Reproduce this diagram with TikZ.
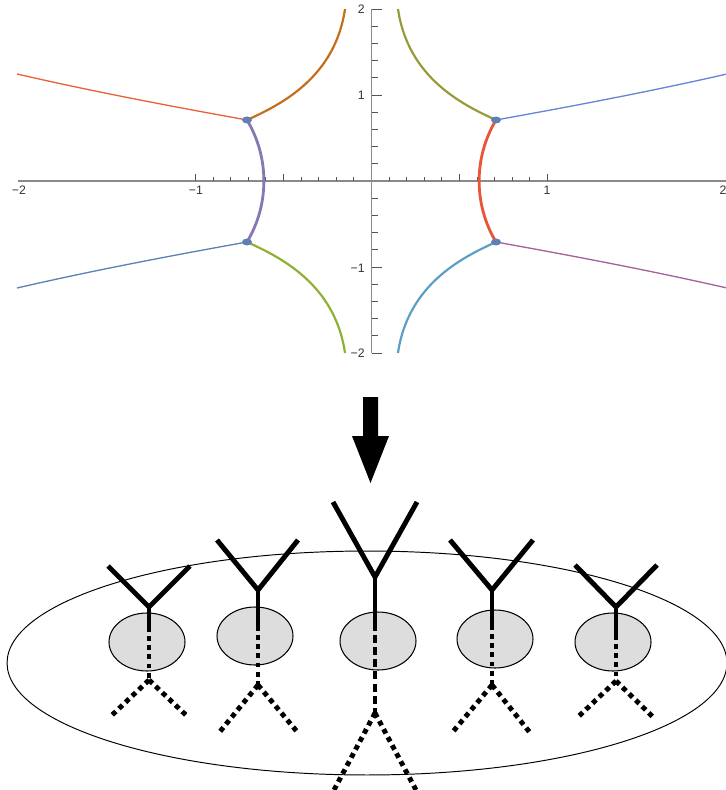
\documentclass[tikz,border=0pt]{standalone}
\usepackage{fontspec}
\newfontfamily\axfont{Liberation Sans}
\usetikzlibrary{shapes.geometric}
\definecolor{axgray}{HTML}{8A8A8A}
\definecolor{tickgray}{HTML}{555555}
\definecolor{labgray}{HTML}{333333}
\definecolor{cRedL}{HTML}{EB6235}
\definecolor{cBrown}{HTML}{C56E1A}
\definecolor{cPurple}{HTML}{8778B3}
\definecolor{cBlueL}{HTML}{5E81B5}
\definecolor{cGreen}{HTML}{8FB032}
\definecolor{cOlive}{HTML}{979A38}
\definecolor{cBlueR}{HTML}{6685D9}
\definecolor{cRedR}{HTML}{E95536}
\definecolor{cLBlue}{HTML}{5D9EC7}
\definecolor{cMagenta}{HTML}{A5609D}
\definecolor{bpblue}{HTML}{5E81B5}
\definecolor{blobgray}{HTML}{DDDDDD}
\begin{document}
\begin{tikzpicture}[x=0.02cm,y=-0.02cm,
  axisline/.style={draw=axgray,line width=0.75pt},
  tickmark/.style={draw=tickgray,line width=0.5pt},
  lab/.style={font=\axfont\fontsize{7}{8}\selectfont,text=labgray,inner sep=0pt},
  thinc/.style={line width=0.75pt},
  midc/.style={line width=1.25pt},
  thickc/.style={line width=1.6pt},
  bp/.style={fill=bpblue,draw=none},
  yarm/.style={line width=2.8pt},
  ydot/.style={line width=2.8pt,dash pattern=on 2.8pt off 2.4pt},
  ydash/.style={line width=2.8pt,dash pattern=on 4.5pt off 2.4pt},
  blob/.style={ellipse,draw=black,line width=0.6pt,fill=blobgray,minimum width=1.52cm,minimum height=1.16cm,inner sep=0pt},
  bigell/.style={ellipse,draw=black,line width=0.55pt,minimum width=14.4cm,minimum height=4.48cm,inner sep=0pt},
  bigarrow/.style={fill=black,draw=none}]
\useasboundingbox (0,0) rectangle (725,790);

% ---------- axes ----------
\coordinate (xl) at (18,181);
\coordinate (xr) at (726,181);
\coordinate (yt) at (371.5,9);
\coordinate (yb) at (371.5,353);
\draw[axisline] (xl) -- (xr);
\draw[axisline] (yt) -- (yb);
\foreach \k in {-9,-8,-7,-6,-4,-3,-2,-1,1,2,3,4,6,7,8,9}{
  \draw[tickmark] ({371.5+17.6*\k},181) -- ++(0,-4);
  \draw[tickmark] (371.5,{181-17.2*\k}) -- ++(6,0);
}
\foreach \k in {-10,-5,5,10}{
  \draw[tickmark] ({371.5+17.6*\k},181) -- ++(0,-7);
  \draw[tickmark] (371.5,{181-17.2*\k}) -- ++(10,0);
}
\node[lab] (xm2) at (19,190) {−2};
\node[lab] (xm1) at (196,190) {−1};
\node[lab] (xp1) at (547,190) {1};
\node[lab] (xp2) at (723,190) {2};
\node[lab,anchor=east] (yp2) at (365,9) {2};
\node[lab,anchor=east] (yp1) at (365,95) {1};
\node[lab,anchor=east] (ym1) at (365,268) {−1};
\node[lab,anchor=east] (ym2) at (365,353) {−2};

% ---------- curves ----------
\coordinate (A) at (247,120);
\coordinate (B) at (247,242);
\coordinate (C) at (496,120);
\coordinate (D) at (496,242);
\coordinate (eRL) at (17,74);
\coordinate (eBL) at (17,288);
\coordinate (eBR) at (727,74);
\coordinate (eMR) at (727,288);
\coordinate (eBr) at (345,9);
\coordinate (eGr) at (345,353);
\coordinate (eOl) at (398,9);
\coordinate (eLB) at (398,353);

\draw[thinc,cRedL] (A) .. controls (175,107) and (95,92) .. (eRL);
\draw[thinc,cBlueL] (B) .. controls (175,255) and (95,270) .. (eBL);
\draw[thinc,cBlueR] (C) .. controls (568,107) and (648,92) .. (eBR);
\draw[thinc,cMagenta] (D) .. controls (568,255) and (648,270) .. (eMR);

\draw[midc,cBrown] (A) .. controls (280,105) and (335,78) .. (eBr);
\draw[midc,cGreen] (B) .. controls (280,257) and (335,284) .. (eGr);
\draw[midc,cOlive] (C) .. controls (463,105) and (408,78) .. (eOl);
\draw[midc,cLBlue] (D) .. controls (463,257) and (408,284) .. (eLB);

\draw[thickc,cPurple] (A) .. controls (269.5,157.5) and (269.5,204.5) .. (B);
\draw[thickc,cRedR] (C) .. controls (473.5,157.5) and (473.5,204.5) .. (D);

\fill[bp] (A) ellipse [x radius=0.1cm,y radius=0.07cm];
\fill[bp] (B) ellipse [x radius=0.1cm,y radius=0.07cm];
\fill[bp] (C) ellipse [x radius=0.1cm,y radius=0.07cm];
\fill[bp] (D) ellipse [x radius=0.1cm,y radius=0.07cm];

% ---------- big arrow ----------
\fill[bigarrow] (363,397) -- (378,397) -- (378,436) -- (389,436) -- (370.5,483) -- (352,436) -- (363,436) -- cycle;

% ---------- lower picture ----------
\node[bigell] (big) at (367,663) {};
\node[blob] (E1) at (147,642) {};
\node[blob] (E2) at (255,636) {};
\node[blob] (E3) at (378,641) {};
\node[blob] (E4) at (495,639) {};
\node[blob] (E5) at (613,642) {};

% Y 1
\coordinate (J1) at (149,607); \coordinate (P1a) at (108,566); \coordinate (P1b) at (190,566);
\coordinate (S1) at (149,627); \coordinate (K1) at (149,680);
\coordinate (L1a) at (110,717); \coordinate (L1b) at (188,717);
\draw[yarm] (P1a) -- (J1) -- (P1b); \draw[yarm] (J1) -- (S1);
\draw[ydot] (S1) -- (K1); \draw[ydot] (K1) -- (L1a); \draw[ydot] (K1) -- (L1b);
% Y 2
\coordinate (J2) at (258,590); \coordinate (P2a) at (217,540); \coordinate (P2b) at (298,540);
\coordinate (S2) at (258,626); \coordinate (K2) at (258,685);
\coordinate (L2a) at (218,734); \coordinate (L2b) at (299,734);
\draw[yarm] (P2a) -- (J2) -- (P2b); \draw[yarm] (J2) -- (S2);
\draw[ydot] (S2) -- (K2); \draw[ydot] (K2) -- (L2a); \draw[ydot] (K2) -- (L2b);
% Y 3 (central)
\coordinate (J3) at (375,577); \coordinate (P3a) at (333,502); \coordinate (P3b) at (417,502);
\coordinate (S3) at (375,623); \coordinate (K3) at (375,713);
\coordinate (L3a) at (334,790); \coordinate (L3b) at (416,790);
\draw[yarm] (P3a) -- (J3) -- (P3b); \draw[yarm] (J3) -- (S3);
\draw[ydash] (S3) -- (K3); \draw[ydot] (K3) -- (L3a); \draw[ydot] (K3) -- (L3b);
% Y 4
\coordinate (J4) at (492,590); \coordinate (P4a) at (450,540); \coordinate (P4b) at (533,540);
\coordinate (S4) at (492,625); \coordinate (K4) at (492,685);
\coordinate (L4a) at (451,734); \coordinate (L4b) at (531,734);
\draw[yarm] (P4a) -- (J4) -- (P4b); \draw[yarm] (J4) -- (S4);
\draw[ydot] (S4) -- (K4); \draw[ydot] (K4) -- (L4a); \draw[ydot] (K4) -- (L4b);
% Y 5
\coordinate (J5) at (616,607); \coordinate (P5a) at (575,565); \coordinate (P5b) at (657,565);
\coordinate (S5) at (616,635); \coordinate (K5) at (616,681);
\coordinate (L5a) at (578,717); \coordinate (L5b) at (653,717);
\draw[yarm] (P5a) -- (J5) -- (P5b); \draw[yarm] (J5) -- (S5);
\draw[ydot] (S5) -- (K5); \draw[ydot] (K5) -- (L5a); \draw[ydot] (K5) -- (L5b);
\end{tikzpicture}
\end{document}
